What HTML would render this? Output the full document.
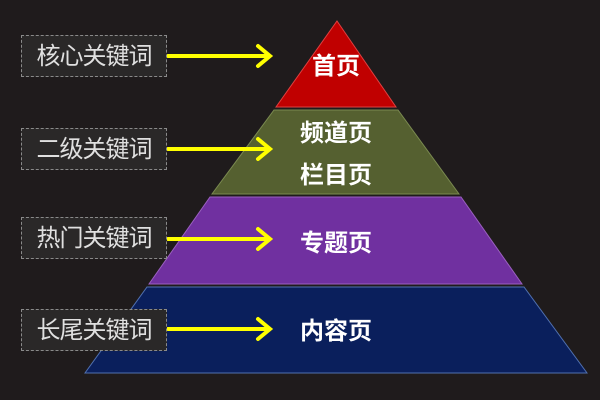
<!DOCTYPE html>
<html><head><meta charset="utf-8"><style>
body{margin:0;width:600px;height:400px;background:#1f1b1c;overflow:hidden;position:relative;font-family:"Liberation Sans","Noto Sans CJK SC",sans-serif}
.box{position:absolute;left:21px;width:146px;height:42px;border:1.5px dashed #8a8a8a;background:#2a2828;color:#e0e0e0;font-size:24px;line-height:42px;text-align:center;box-sizing:border-box;letter-spacing:-1px}
</style></head><body>
<svg width="600" height="400" style="position:absolute;left:0;top:0">
<polygon points="337,21 396,107 276,107" fill="#c00000" stroke="#e04040"/>
<polygon points="274,110 398,110 459,194 212,194" fill="#556030" stroke="#7a8a50"/>
<polygon points="210,197 461,197 522,284 149,284" fill="#7030a0" stroke="#9a60c0"/>
<polygon points="147,287 524,287 587,373 85,373" fill="#0a1f5c" stroke="#5070b0"/>
<g stroke="#ffff00" stroke-width="4" fill="none" stroke-linecap="round">
<line x1="168" y1="56" x2="268" y2="56"/><polyline points="258,46 270,56 258,66"/>
<line x1="168" y1="149" x2="268" y2="149"/><polyline points="258,139 270,149 258,159"/>
<line x1="168" y1="239" x2="268" y2="239"/><polyline points="258,229 270,239 258,249"/>
<line x1="168" y1="329" x2="268" y2="329"/><polyline points="258,319 270,329 258,339"/>
</g>
<g fill="#fff" font-size="24" font-weight="bold" text-anchor="middle" font-family="Liberation Sans,Noto Sans CJK SC,sans-serif">
<text x="336" y="74">首页</text>
<text x="336" y="141">频道页</text>
<text x="336" y="183">栏目页</text>
<text x="336" y="251">专题页</text>
<text x="336" y="339">内容页</text>
</g>
</svg>
<div class="box" style="top:35px">核心关键词</div>
<div class="box" style="top:128px">二级关键词</div>
<div class="box" style="top:217px">热门关键词</div>
<div class="box" style="top:309px">长尾关键词</div>
</body></html>
